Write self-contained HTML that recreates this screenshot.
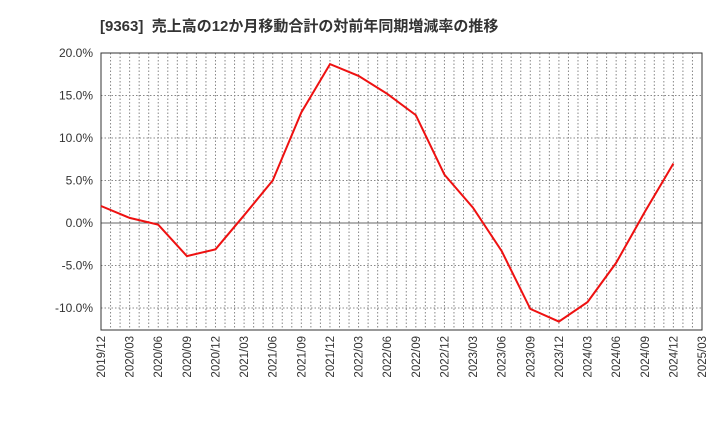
<!DOCTYPE html>
<html><head><meta charset="utf-8"><style>
body{margin:0;background:#fff;font-family:"Liberation Sans","Noto Sans CJK JP",sans-serif;}
</style></head><body>
<svg width="720" height="440" xmlns="http://www.w3.org/2000/svg">
<text x="100" y="31" font-size="15" font-weight="bold" fill="#333" font-family="Liberation Sans, Noto Sans CJK JP, sans-serif">[9363]&#160;&#160;売上高の12か月移動合計の対前年同期増減率の推移</text>
<g id="grid"></g><g id="axes"></g>
<path id="line" fill="none" stroke="#ee1111" stroke-width="2"/>
</svg>
<script>
const categories=["2019/12","2020/03","2020/06","2020/09","2020/12","2021/03","2021/06","2021/09","2021/12","2022/03","2022/06","2022/09","2022/12","2023/03","2023/06","2023/09","2023/12","2024/03","2024/06","2024/09","2024/12"];
const values=[2.0,0.6,-0.2,-3.9,-3.1,0.9,5.0,13.0,18.7,17.3,15.2,12.7,5.7,1.8,-3.3,-10.1,-11.6,-9.3,-4.7,1.3,7.0];
const xTicks=["2019/12","2020/03","2020/06","2020/09","2020/12","2021/03","2021/06","2021/09","2021/12","2022/03","2022/06","2022/09","2022/12","2023/03","2023/06","2023/09","2023/12","2024/03","2024/06","2024/09","2024/12","2025/03"];
const yTicks=[20,15,10,5,0,-5,-10];
const L=101,R=702,T=53,B=330,NS="http://www.w3.org/2000/svg";
const x=i=>L+(R-L)*i/21;
const y=v=>223-v*8.5;
const g=document.getElementById('grid'),a=document.getElementById('axes');
function mk(p,tag,at){const e=document.createElementNS(NS,tag);for(const k in at)e.setAttribute(k,at[k]);p.appendChild(e);return e;}
for(let m=1;m<63;m++){const xx=L+(R-L)*m/63;
const e=mk(g,'line',{x1:xx,x2:xx,y1:T,y2:B,stroke:'#888','stroke-dasharray':'1.5,2','stroke-width':1});

}
yTicks.forEach(v=>{const yy=y(v);
const e=mk(g,'line',{x1:L,x2:R,y1:yy,y2:yy,stroke:v===0?'#666':'#888','stroke-dasharray':v===0?'none':'1.5,2','stroke-width':1});


const t=mk(a,'text',{x:L-8,y:yy+4,'text-anchor':'end','font-size':12,fill:'#333'});t.textContent=v.toFixed(1)+'%';

});
const fr=mk(a,'rect',{x:L,y:T,width:R-L,height:B-T,fill:'none',stroke:'#333','stroke-width':1});


xTicks.forEach((s,i)=>{const xx=x(i);
const t=mk(a,'text',{x:0,y:0,transform:`translate(${xx+4},${B+6}) rotate(-90)`,'text-anchor':'end','font-size':11.5,fill:'#333'});t.textContent=s;

});
document.getElementById('line').setAttribute('d',values.map((v,i)=>(i?'L':'M')+x(i).toFixed(1)+','+y(v).toFixed(1)).join(''));
</script>
</body></html>
